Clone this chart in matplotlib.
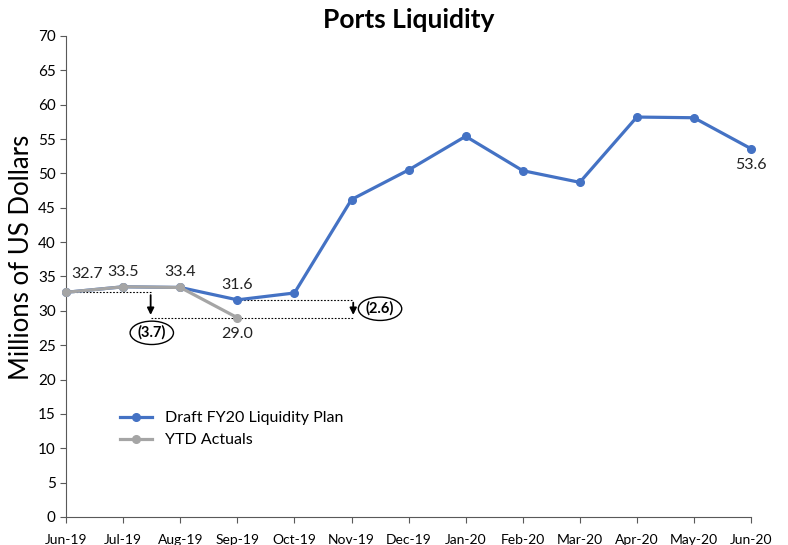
import matplotlib
matplotlib.use("Agg")
import matplotlib.pyplot as plt
from matplotlib.patches import Ellipse

plt.rcParams["font.family"] = ["Lato", "DejaVu Sans"]

# ── data ──────────────────────────────────────────────────────────────────────
months = ["Jun-19", "Jul-19", "Aug-19", "Sep-19", "Oct-19", "Nov-19", "Dec-19",
          "Jan-20", "Feb-20", "Mar-20", "Apr-20", "May-20", "Jun-20"]
plan = [32.7, 33.5, 33.4, 31.6, 32.6, 46.2, 50.5, 55.4, 50.4, 48.7, 58.2, 58.1, 53.6]
actuals = [32.7, 33.5, 33.4, 29.0]
gap_ytd = 3.7      # 32.7 - 29.0
gap_plan = 2.6     # 31.6 - 29.0

BLUE = "#4472C4"
GRAY = "#A5A5A5"

fig = plt.figure(figsize=(7.88, 5.45), dpi=100)
ax = fig.add_axes([0.084, 0.0514, 0.869, 0.8826])

x = list(range(len(months)))
ax.plot(x, plan, color=BLUE, lw=2.3, marker="o", ms=5.5, label="Draft FY20 Liquidity Plan",
        zorder=3, clip_on=False)
ax.plot(x[:len(actuals)], actuals, color=GRAY, lw=2.3, marker="o", ms=5.5, label="YTD Actuals",
        zorder=4, clip_on=False)

# data labels
lbl = dict(fontsize=11.5, color="#222222")
ax.text(x[0] + 0.37, plan[0] + 1.6, f"{plan[0]:.1f}", ha="center", va="bottom", **lbl)
ax.text(x[1], plan[1] + 1.1, f"{plan[1]:.1f}", ha="center", va="bottom", **lbl)
ax.text(x[2], plan[2] + 1.2, f"{plan[2]:.1f}", ha="center", va="bottom", **lbl)
ax.text(x[3], plan[3] + 1.2, f"{plan[3]:.1f}", ha="center", va="bottom", **lbl)
ax.text(x[3], actuals[3] - 1.4, f"{actuals[3]:.1f}", ha="center", va="top", **lbl)
ax.text(x[12], plan[12] - 1.4, f"{plan[12]:.1f}", ha="center", va="top", **lbl)

# variance markers
xa = 1.48
xb = 5.03
dot = dict(color="black", lw=0.8, ls=(0, (1.5, 1.5)), zorder=2)
ax.plot([x[0], xa], [actuals[0], actuals[0]], **dot)
ax.plot([xa, xb], [actuals[3], actuals[3]], **dot)
ax.plot([x[3], xb], [plan[3], plan[3]], **dot)
arr = dict(arrowstyle="-|>", color="black", lw=1.3, mutation_scale=10)
ax.annotate("", xy=(xa, actuals[3]), xytext=(xa, actuals[0]), arrowprops=arr)
ax.annotate("", xy=(xb, actuals[3]), xytext=(xb, plan[3]), arrowprops=arr)

for cx, cy, val in [(1.5, 26.8, gap_ytd), (5.5, 30.3, gap_plan)]:
    ax.add_patch(Ellipse((cx, cy), 0.76, 3.4, fill=False, ec="black", lw=1.0, zorder=5))
    ax.text(cx, cy, f"({val:.1f})", ha="center", va="center", fontsize=10.5,
            fontweight="bold", zorder=6)

# axes styling
ax.set_xlim(0, 12)
ax.set_ylim(0, 70)
ax.set_xticks(x)
ax.set_xticklabels(months, fontsize=10)
ax.set_yticks(range(0, 71, 5))
ax.tick_params(axis="y", labelsize=11, length=4, color="#595959")
ax.tick_params(axis="x", length=4, color="#595959", pad=8)
for s in ["top", "right"]:
    ax.spines[s].set_visible(False)
for s in ["left", "bottom"]:
    ax.spines[s].set_color("#595959")
ax.set_ylabel("Millions of US Dollars", fontsize=18.5)
ax.yaxis.set_label_coords(-0.047, 0.54)
ax.set_title("Ports Liquidity", fontsize=19, fontweight="bold", pad=6)

ax.legend(loc="lower left", bbox_to_anchor=(0.058, 0.115), frameon=False, fontsize=11.5,
          handlelength=2.0, labelspacing=0.5)

fig.savefig("out.png", dpi=100)
